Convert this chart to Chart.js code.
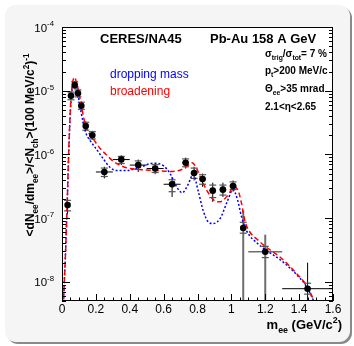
<!DOCTYPE html>
<html>
<head>
<meta charset="utf-8">
<script src="https://cdn.jsdelivr.net/npm/chart.js@4.4.0/dist/chart.umd.min.js"></script>
<style>
html,body{margin:0;padding:0;background:#fff;}
#wrap{width:354px;height:346px;}
</style>
</head>
<body>
<div id="wrap"><canvas id="chart" width="354" height="346"></canvas></div>
<script>
// measured points
let massX = [0.033,0.053,0.075,0.094,0.114,0.14,0.179,0.25,0.35,0.45,0.55,0.65,0.73,0.78,0.83,0.89,0.95,1.01,1.07,1.2,1.45];
let yieldY = [1.6e-7,8.3e-6,1.23e-5,9.1e-6,5.8e-6,2.78e-6,2.0e-6,5.3e-7,8.3e-7,6.8e-7,6.0e-7,3.4e-7,7.4e-7,5.1e-7,4.1e-7,2.7e-7,2.8e-7,3.2e-7,7.0e-8,2.96e-8,7.8e-9];
let xErr = [0.01,0.01,0.01,0.01,0.01,0.01,0.01,0.05,0.05,0.05,0.05,0.05,0.02,0.02,0.02,0.02,0.02,0.02,0,0.1,0.15];
let statHi = [2.0e-7,9.8e-6,1.42e-5,1.07e-5,6.8e-6,3.3e-6,2.35e-6,6.4e-7,9.7e-7,8.3e-7,7.2e-7,4.4e-7,8.9e-7,6.4e-7,5.0e-7,3.6e-7,3.6e-7,3.9e-7,1.32e-7,5.5e-8,2.0e-8];
let statLo = [1.17e-7,7.0e-6,1.06e-5,7.7e-6,4.9e-6,2.35e-6,1.7e-6,4.2e-7,6.8e-7,5.3e-7,4.9e-7,2.15e-7,6.0e-7,3.9e-7,3.1e-7,1.8e-7,2.15e-7,2.6e-7,1e-10,1e-10,1e-10];
let sysHi = [1.9e-7,9.5e-6,1.38e-5,1.03e-5,6.6e-6,3.2e-6,2.28e-6,6.1e-7,9.3e-7,7.9e-7,6.9e-7,4.0e-7,8.5e-7,6.1e-7,4.8e-7,3.3e-7,3.3e-7,3.7e-7,8.6e-8,3.6e-8,9.5e-9];
let sysLo = [1.3e-7,7.2e-6,1.1e-5,8.0e-6,5.1e-6,2.4e-6,1.75e-6,4.5e-7,7.2e-7,5.8e-7,5.2e-7,2.6e-7,6.4e-7,4.2e-7,3.4e-7,2.1e-7,2.3e-7,2.8e-7,5.8e-8,2.4e-8,6.4e-9];

// model curves
let dropX = [0.005,0.012,0.02,0.03,0.04,0.05,0.06,0.068,0.075,0.094,0.114,0.14,0.166,0.204,0.244,0.283,0.32,0.38,0.46,0.54,0.6,0.638,0.68,0.71,0.74,0.775,0.805,0.834,0.864,0.893,0.935,0.975,1.01,1.035,1.06,1.09,1.15,1.2,1.29,1.385,1.445,1.483,1.52];
let dropY = [3e-9,8e-9,2.5e-8,1.5e-7,1.1e-6,5e-6,1.05e-5,1.3e-5,1.25e-5,8.5e-6,4.4e-6,2.2e-6,1.65e-6,1.2e-6,8.5e-7,6.3e-7,5.6e-7,5.6e-7,6.3e-7,7.3e-7,6.6e-7,5.0e-7,3.0e-7,2.5e-7,3.2e-7,4.8e-7,2.6e-7,1.3e-7,8.7e-8,8.2e-8,1.0e-7,1.8e-7,2.8e-7,2.0e-7,1.05e-7,6.3e-8,4.1e-8,3.2e-8,2.2e-8,1.3e-8,8.3e-9,5.2e-9,3e-9];
let broadX = [0.005,0.012,0.02,0.03,0.04,0.05,0.06,0.07,0.076,0.082,0.094,0.114,0.14,0.185,0.224,0.26,0.303,0.37,0.46,0.56,0.64,0.7,0.74,0.768,0.795,0.825,0.854,0.893,0.93,0.98,1.015,1.04,1.06,1.08,1.11,1.15,1.2,1.287,1.385,1.445,1.483,1.52];
let broadY = [3e-9,8e-9,2.5e-8,1.5e-7,1.2e-6,5.5e-6,1.2e-5,1.58e-5,1.62e-5,1.45e-5,1.1e-5,5.8e-6,2.8e-6,1.75e-6,1.25e-6,1.0e-6,7.8e-7,6.3e-7,5.8e-7,5.6e-7,5.4e-7,5.7e-7,6.6e-7,7.4e-7,6.0e-7,3.9e-7,2.75e-7,1.95e-7,1.8e-7,2.3e-7,3.1e-7,2.7e-7,1.7e-7,9e-8,6e-8,4.7e-8,3.6e-8,2.45e-8,1.35e-8,8.7e-9,5.4e-9,3e-9];

let xTicks = [0,0.2,0.4,0.6,0.8,1,1.2,1.4,1.6];
let xTickLabels = ["0","0.2","0.4","0.6","0.8","1","1.2","1.4","1.6"];
let yDecades = [-8,-7,-6,-5,-4];

function pts(xs, ys){ return xs.map((x,i)=>({x:x, y:ys[i]})); }

const FONT = "'Liberation Sans', Arial, sans-serif";

// rich text: parts = [[text, mode]] mode 0 normal, -1 sub, 1 sup
function richWidth(ctx, parts, size, weight){
    let w=0;
    parts.forEach(p=>{
        let s = p[1]==0 ? size : size*0.68;
        ctx.font = weight+" "+s+"px "+FONT;
        w += ctx.measureText(p[0]).width;
    });
    return w;
}
function richText(ctx, parts, x, y, size, weight){
    let cx=x;
    parts.forEach(p=>{
        let s = p[1]==0 ? size : size*0.68;
        let dy = p[1]==0 ? 0 : (p[1]<0 ? size*0.3 : -size*0.45);
        ctx.font = weight+" "+s+"px "+FONT;
        ctx.fillText(p[0], cx, y+dy);
        cx += ctx.measureText(p[0]).width;
    });
}

const framePlugin = {
    id:"frame",
    beforeDraw(chart){
        let ctx=chart.ctx, a=chart.chartArea;
        ctx.save();
        ctx.fillStyle="#fff";
        ctx.fillRect(0,0,chart.width,chart.height);
        // shadow
        ctx.fillStyle="#8a8a8a";
        ctx.beginPath();
        ctx.roundRect(7,7,345,337,11);
        ctx.fill();
        ctx.fillStyle="#f5f5f5";
        ctx.beginPath();
        ctx.roundRect(5,5,345,337,11);
        ctx.fill();
        ctx.fillStyle="#fff";
        ctx.fillRect(a.left,a.top,a.right-a.left,a.bottom-a.top);
        ctx.restore();
    },
    beforeDatasetsDraw(chart){
        let ctx=chart.ctx, a=chart.chartArea;
        let xs=chart.scales.x, ys=chart.scales.y;
        ctx.save();
        ctx.beginPath();
        ctx.rect(a.left,a.top,a.right-a.left,a.bottom-a.top);
        ctx.clip();
        massX.forEach((mx,i)=>{
            let px=xs.getPixelForValue(mx), py=ys.getPixelForValue(yieldY[i]);
            let big = (i==18 || i==19);
            // stat bar
            ctx.strokeStyle = big ? "#6e6e6e" : "#000";
            ctx.lineWidth = big ? 2 : 1;
            ctx.beginPath();
            ctx.moveTo(px, ys.getPixelForValue(statHi[i]));
            ctx.lineTo(px, ys.getPixelForValue(statLo[i]));
            ctx.stroke();
            // x bar
            if(xErr[i]>0){
                ctx.strokeStyle = (i==19) ? "#6e6e6e" : "#000";
                ctx.lineWidth = (i==19) ? 1.5 : 1;
                ctx.beginPath();
                ctx.moveTo(xs.getPixelForValue(mx-xErr[i]), py);
                ctx.lineTo(xs.getPixelForValue(mx+xErr[i]), py);
                ctx.stroke();
            }
            // systematic caps
            ctx.strokeStyle="#555";
            ctx.lineWidth=1.2;
            [sysHi[i],sysLo[i]].forEach(v=>{
                let yy=ys.getPixelForValue(v);
                ctx.beginPath();
                ctx.moveTo(px-3.5,yy);
                ctx.lineTo(px+3.5,yy);
                ctx.stroke();
            });
        });
        ctx.restore();
    },
    afterDraw(chart){
        let ctx=chart.ctx, a=chart.chartArea;
        let xs=chart.scales.x, ys=chart.scales.y;
        ctx.save();
        ctx.strokeStyle="#000";
        ctx.lineWidth=1;
        ctx.strokeRect(a.left+0.5,a.top+0.5,a.right-a.left-1,a.bottom-a.top-1);
        ctx.beginPath();
        // x ticks
        for(let k=0;k<=32;k++){
            let v=k*0.05;
            let px=Math.round(xs.getPixelForValue(v))+0.5;
            let len = (k%4==0) ? 7 : 3.5;
            ctx.moveTo(px,a.bottom);
            ctx.lineTo(px,a.bottom-len);
        }
        // y ticks, left and right
        yDecades.forEach(d=>{
            for(let m=1;m<=9;m++){
                let v=m*Math.pow(10,d);
                if(v<ys.min || v>ys.max) continue;
                let py=Math.round(ys.getPixelForValue(v))+0.5;
                let len = (m==1) ? 8 : 4;
                ctx.moveTo(a.left,py); ctx.lineTo(a.left+len,py);
                ctx.moveTo(a.right,py); ctx.lineTo(a.right-len,py);
            }
        });
        ctx.stroke();
        // minor below first decade
        ctx.beginPath();
        [5,6,7,8,9].forEach(m=>{
            let v=m*1e-9;
            if(v<ys.min) return;
            let py=Math.round(ys.getPixelForValue(v))+0.5;
            ctx.moveTo(a.left,py); ctx.lineTo(a.left+4,py);
            ctx.moveTo(a.right,py); ctx.lineTo(a.right-4,py);
        });
        ctx.stroke();

        ctx.fillStyle="#000";
        // x tick labels
        ctx.font="12px "+FONT;
        ctx.textAlign="center";
        ctx.textBaseline="alphabetic";
        xTicks.forEach((v,i)=>{
            ctx.fillText(xTickLabels[i], xs.getPixelForValue(v), 313);
        });
        // y tick labels
        ctx.textAlign="left";
        yDecades.forEach(d=>{
            let py=ys.getPixelForValue(Math.pow(10,d));
            let parts=[["10",0],[String(d),1]];
            let w=richWidth(ctx,parts,11.5,"normal");
            richText(ctx,parts,54-w,py+4.5,11.5,"normal");
        });
        // axis titles
        let xt=[["m",0],["ee",-1],[" (GeV/c",0],["2",1],[")",0]];
        let w=richWidth(ctx,xt,13,"bold");
        richText(ctx,xt,342-w,329,13,"bold");

        let yt=[["<dN",0],["ee",-1],["/dm",0],["ee",-1],[">/<N",0],["ch",-1],[">(100 MeV/c",0],["2",1],[")",0],["-1",1]];
        ctx.save();
        ctx.translate(34,145);
        ctx.rotate(-Math.PI/2);
        let wy=richWidth(ctx,yt,12,"bold");
        richText(ctx,yt,-wy/2,0,12,"bold");
        ctx.restore();

        // headers
        ctx.font="bold 13px "+FONT;
        ctx.fillText("CERES/NA45",100,43);
        ctx.fillText("Pb-Au 158 A GeV",210,43);

        ctx.font="12px "+FONT;
        ctx.fillStyle="#0000ff";
        ctx.fillText("dropping mass",110,77.5);
        ctx.fillStyle="#ff0000";
        ctx.fillText("broadening",110,95);

        ctx.fillStyle="#000";
        richText(ctx,[["σ",0],["trig",-1],["/σ",0],["tot",-1],["= 7 %",0]],265,57,10,"bold");
        richText(ctx,[["p",0],["t",-1],[">200 MeV/c",0]],265,74,10,"bold");
        richText(ctx,[["Θ",0],["ee",-1],[">35 mrad",0]],265,92,10,"bold");
        richText(ctx,[["2.1<η<2.65",0]],265,110,10,"bold");
        ctx.restore();
    }
};

new Chart(document.getElementById("chart"),{
    type:"scatter",
    data:{
        datasets:[
            {
                label:"data",
                data:pts(massX,yieldY),
                backgroundColor:"#000",
                borderColor:"#000",
                borderWidth:0,
                pointRadius:3.3,
                pointStyle:"circle",
                order:0
            },
            {
                type:"line",
                label:"broadening",
                data:pts(broadX,broadY),
                borderColor:"#ff0000",
                borderWidth:1.5,
                borderDash:[5,3],
                pointRadius:0,
                fill:false,
                cubicInterpolationMode:"monotone",
                order:1
            },
            {
                type:"line",
                label:"dropping mass",
                data:pts(dropX,dropY),
                borderColor:"#0000ff",
                borderWidth:1.5,
                borderDash:[2,2],
                pointRadius:0,
                fill:false,
                cubicInterpolationMode:"monotone",
                order:2
            }
        ]
    },
    options:{
        responsive:false,
        devicePixelRatio:1,
        animation:false,
        layout:{padding:{left:62,right:21,top:27,bottom:45}},
        plugins:{legend:{display:false},tooltip:{enabled:false}},
        scales:{
            x:{type:"linear",min:0,max:1.6,display:false},
            y:{type:"logarithmic",min:5e-9,max:1e-4,display:false}
        }
    },
    plugins:[framePlugin]
});
</script>
</body>
</html>
